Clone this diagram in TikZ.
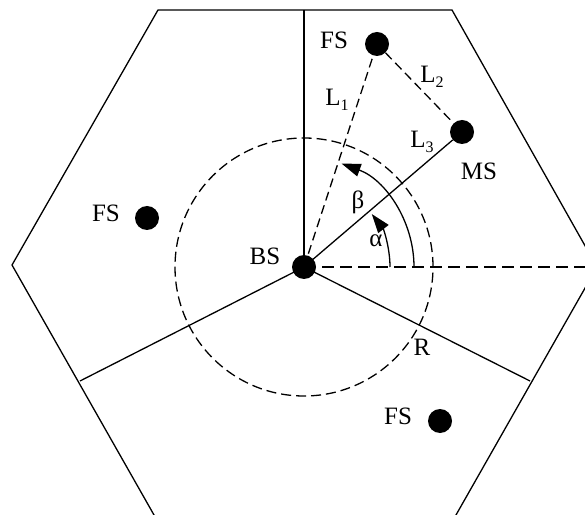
\documentclass[tikz,border=0pt]{standalone}
\usepackage{fontspec}
\setmainfont{Liberation Serif}
\usetikzlibrary{arrows.meta,calc}
\begin{document}
\begin{tikzpicture}[x=1pt,y=1pt,
  solidline/.style={line width=1.3pt},
  dashline/.style={line width=1.3pt,dash pattern=on 9pt off 5pt},
  station/.style={circle,fill=black,minimum size=24pt,inner sep=0pt},
  lab/.style={inner sep=0pt,font=\fontsize{25}{29}\selectfont},
  anglearrow/.style={line width=1.3pt,-{Triangle[length=19pt,width=13pt]}}]
\useasboundingbox (0,0) rectangle (585,514);
\clip (0,0) rectangle (585,514);
% hexagon cell
\coordinate (A) at (12,249);
\coordinate (B) at (158,504);
\coordinate (C) at (452,504);
\coordinate (D) at (597,247);
\coordinate (E) at (452,-8);
\coordinate (F) at (158,-8);
\draw[solidline] (A) -- (B) -- (C) -- (D) -- (E) -- (F) -- cycle;
% sector boundaries
\coordinate (bsc) at (304,247);
\coordinate (top) at (304,504);
\coordinate (sl) at (80,133);
\coordinate (sr) at (530,133);
\draw[solidline] (bsc) -- (top);
\draw[solidline] (bsc) -- (sl);
\draw[solidline] (bsc) -- (sr);
% dashed reference line and coverage circle
\draw[line width=1.3pt,dash pattern=on 12pt off 6pt] (bsc) -- (D);
\draw[line width=1.3pt,dash pattern=on 10pt off 5pt] (bsc) circle[radius=129];
% stations
\node[station] (bs) at (bsc) {};
\node[station] (fs1) at (377,470) {};
\node[station] (ms) at (462,382) {};
\node[station] (fs2) at (147,296) {};
\node[station] (fs3) at (440,93) {};
% links
\draw[dashline] (bs.center) -- (fs1);
\draw[dashline] (fs1) -- (ms);
\draw[solidline] (bs.center) -- (ms);
% angles
\draw[anglearrow] ($(bsc)+(0:86)$) arc[start angle=0,end angle=38,radius=86];
\draw[anglearrow] ($(bsc)+(0:110)$) arc[start angle=0,end angle=70,radius=110];
% labels
\node[lab] (tfs1) at (334,474) {FS};
\node[lab] (tl1) at (337,414) {L\raisebox{-0.22em}{\fontsize{16}{16}\selectfont 1}};
\node[lab] (tl2) at (432,437) {L\raisebox{-0.22em}{\fontsize{16}{16}\selectfont 2}};
\node[lab] (tl3) at (422,372) {L\raisebox{-0.22em}{\fontsize{16}{16}\selectfont 3}};
\node[lab] (tms) at (479,343) {MS};
\node[lab] (tbeta) at (358,312) {β};
\node[lab] (talpha) at (376,273) {α};
\node[lab] (tbs) at (265,258) {BS};
\node[lab] (tfs2) at (106,301) {FS};
\node[lab] (tfs3) at (398,98) {FS};
\node[lab] (tr) at (422,167) {R};
\end{tikzpicture}
\end{document}
